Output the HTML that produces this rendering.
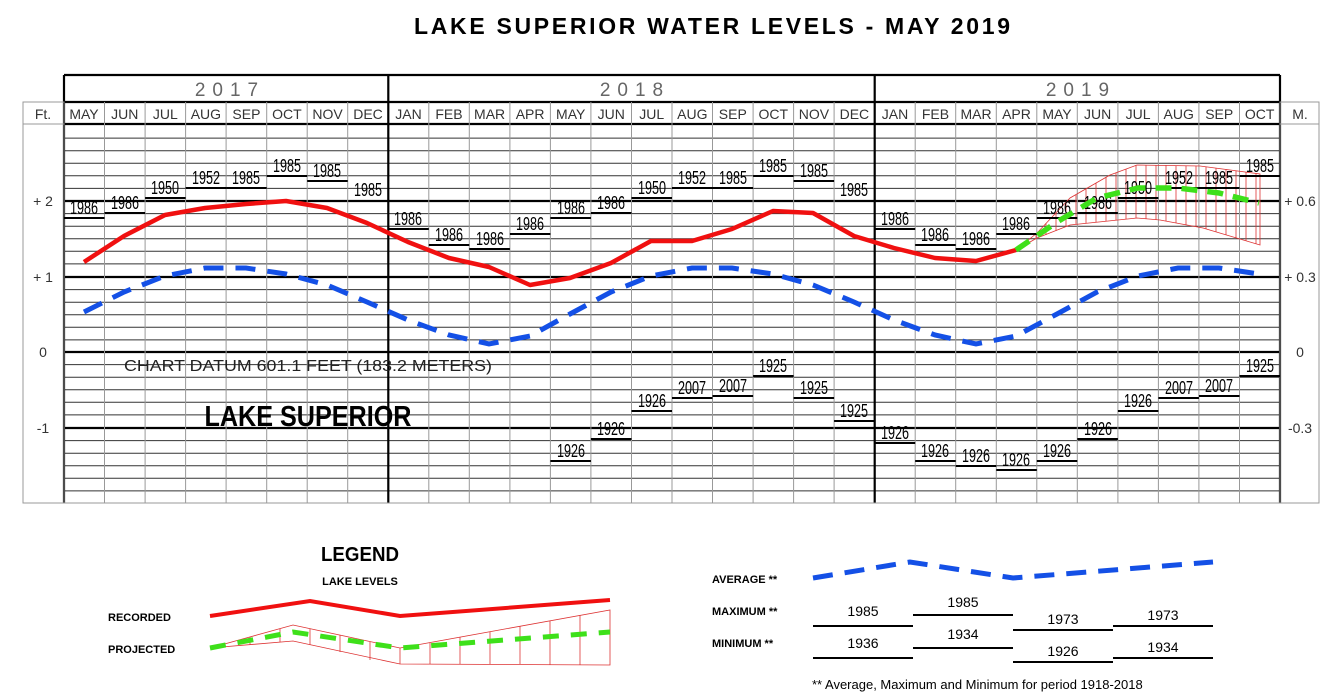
<!DOCTYPE html>
<html><head><meta charset="utf-8"><style>
html,body{margin:0;padding:0;background:#fff;}
svg{display:block;font-family:"Liberation Sans",sans-serif;}
.m{font-size:14px;fill:#333;text-anchor:middle;}
.r{font-size:18px;fill:#000;text-anchor:middle;}
.lg{font-size:11px;font-weight:bold;fill:#000;}
.ly{font-size:14px;fill:#000;text-anchor:middle;}
</style></head><body>
<svg width="1337" height="699" viewBox="0 0 1337 699">
<text x="712" y="34" text-anchor="middle" font-size="23" font-weight="bold" textLength="596" lengthAdjust="spacing">LAKE SUPERIOR WATER LEVELS - MAY 2019</text>
<g stroke="#333" stroke-width="1">
<line x1="64" x2="1280" y1="138.1" y2="138.1"/><line x1="64" x2="1280" y1="150.7" y2="150.7"/><line x1="64" x2="1280" y1="163.3" y2="163.3"/><line x1="64" x2="1280" y1="175.8" y2="175.8"/><line x1="64" x2="1280" y1="188.4" y2="188.4"/>
<line x1="64" x2="1280" y1="213.6" y2="213.6"/><line x1="64" x2="1280" y1="226.2" y2="226.2"/><line x1="64" x2="1280" y1="238.8" y2="238.8"/><line x1="64" x2="1280" y1="251.3" y2="251.3"/><line x1="64" x2="1280" y1="263.9" y2="263.9"/>
<line x1="64" x2="1280" y1="289.6" y2="289.6"/><line x1="64" x2="1280" y1="302.2" y2="302.2"/><line x1="64" x2="1280" y1="314.8" y2="314.8"/><line x1="64" x2="1280" y1="327.3" y2="327.3"/><line x1="64" x2="1280" y1="339.9" y2="339.9"/>
<line x1="64" x2="1280" y1="364.6" y2="364.6"/><line x1="64" x2="1280" y1="377.2" y2="377.2"/><line x1="64" x2="1280" y1="389.8" y2="389.8"/><line x1="64" x2="1280" y1="402.3" y2="402.3"/><line x1="64" x2="1280" y1="414.9" y2="414.9"/>
<line x1="64" x2="1280" y1="440.6" y2="440.6"/><line x1="64" x2="1280" y1="453.2" y2="453.2"/><line x1="64" x2="1280" y1="465.8" y2="465.8"/><line x1="64" x2="1280" y1="478.3" y2="478.3"/><line x1="64" x2="1280" y1="490.9" y2="490.9"/>
</g>
<g stroke="#000" stroke-width="2.2">
<line x1="64" x2="1280" y1="201" y2="201"/><line x1="64" x2="1280" y1="277" y2="277"/><line x1="64" x2="1280" y1="352" y2="352"/><line x1="64" x2="1280" y1="428" y2="428"/>
<line x1="64" x2="1280" y1="75" y2="75"/><line x1="64" x2="1280" y1="102" y2="102"/><line x1="64" x2="1280" y1="124" y2="124"/>
</g>
<g stroke="#999" stroke-width="1">
<line x1="104.5" x2="104.5" y1="102" y2="503"/><line x1="145.1" x2="145.1" y1="102" y2="503"/><line x1="185.6" x2="185.6" y1="102" y2="503"/><line x1="226.1" x2="226.1" y1="102" y2="503"/><line x1="266.7" x2="266.7" y1="102" y2="503"/><line x1="307.2" x2="307.2" y1="102" y2="503"/><line x1="347.7" x2="347.7" y1="102" y2="503"/>
<line x1="428.8" x2="428.8" y1="102" y2="503"/><line x1="469.3" x2="469.3" y1="102" y2="503"/><line x1="509.9" x2="509.9" y1="102" y2="503"/><line x1="550.4" x2="550.4" y1="102" y2="503"/><line x1="590.9" x2="590.9" y1="102" y2="503"/><line x1="631.5" x2="631.5" y1="102" y2="503"/><line x1="672" x2="672" y1="102" y2="503"/><line x1="712.5" x2="712.5" y1="102" y2="503"/><line x1="753.1" x2="753.1" y1="102" y2="503"/><line x1="793.6" x2="793.6" y1="102" y2="503"/><line x1="834.1" x2="834.1" y1="102" y2="503"/>
<line x1="915.2" x2="915.2" y1="102" y2="503"/><line x1="955.7" x2="955.7" y1="102" y2="503"/><line x1="996.3" x2="996.3" y1="102" y2="503"/><line x1="1036.8" x2="1036.8" y1="102" y2="503"/><line x1="1077.3" x2="1077.3" y1="102" y2="503"/><line x1="1117.9" x2="1117.9" y1="102" y2="503"/><line x1="1158.4" x2="1158.4" y1="102" y2="503"/><line x1="1198.9" x2="1198.9" y1="102" y2="503"/><line x1="1239.5" x2="1239.5" y1="102" y2="503"/>
</g>
<g stroke="#000" stroke-width="2.2">
<line x1="64" x2="64" y1="75" y2="503"/><line x1="388.3" x2="388.3" y1="75" y2="503"/><line x1="874.7" x2="874.7" y1="75" y2="503"/><line x1="1280" x2="1280" y1="75" y2="503"/>
</g>
<g stroke="#999" stroke-width="1" fill="none">
<rect x="23" y="102" width="41" height="401"/><rect x="1280" y="102" width="39" height="401"/>
<line x1="23" x2="64" y1="124" y2="124"/><line x1="1280" x2="1319" y1="124" y2="124"/>
<line x1="64" x2="1280" y1="503" y2="503"/>
</g>
<g font-size="19" fill="#666" text-anchor="middle" letter-spacing="7">
<text x="230" y="96">2017</text><text x="635" y="96">2018</text><text x="1081" y="96">2019</text>
</g>
<text x="43" y="119" class="m">Ft.</text><text x="1300" y="119" class="m">M.</text>
<g class="m">
<text x="84" y="119">MAY</text><text x="124.8" y="119">JUN</text><text x="165.3" y="119">JUL</text><text x="205.9" y="119">AUG</text><text x="246.4" y="119">SEP</text><text x="286.9" y="119">OCT</text><text x="327.5" y="119">NOV</text><text x="368" y="119">DEC</text>
<text x="408.5" y="119">JAN</text><text x="449" y="119">FEB</text><text x="489.6" y="119">MAR</text><text x="530.1" y="119">APR</text><text x="570.7" y="119">MAY</text><text x="611.2" y="119">JUN</text><text x="651.7" y="119">JUL</text><text x="692.3" y="119">AUG</text><text x="732.8" y="119">SEP</text><text x="773.3" y="119">OCT</text><text x="813.9" y="119">NOV</text><text x="854.4" y="119">DEC</text>
<text x="895" y="119">JAN</text><text x="935.5" y="119">FEB</text><text x="976" y="119">MAR</text><text x="1016.5" y="119">APR</text><text x="1057" y="119">MAY</text><text x="1097.6" y="119">JUN</text><text x="1138.1" y="119">JUL</text><text x="1178.7" y="119">AUG</text><text x="1219.2" y="119">SEP</text><text x="1259.7" y="119">OCT</text>
</g>
<g class="m" font-size="13">
<text x="43" y="206">+ 2</text><text x="43" y="282">+ 1</text><text x="43" y="357">0</text><text x="43" y="433">-1</text>
<text x="1300" y="206">+ 0.6</text><text x="1300" y="282">+ 0.3</text><text x="1300" y="357">0</text><text x="1300" y="433">-0.3</text>
</g>
<text x="308" y="371" text-anchor="middle" font-size="16" fill="#222" textLength="368" lengthAdjust="spacingAndGlyphs">CHART DATUM  601.1 FEET (183.2 METERS)</text>
<text x="308" y="426" text-anchor="middle" font-size="29" font-weight="bold" textLength="207" lengthAdjust="spacingAndGlyphs">LAKE SUPERIOR</text>
<g stroke="#d33" stroke-width="0.8" fill="none">
<path d="M1016,250 L1037,233 L1070,198 L1110,175 L1137,165 L1200,166 L1260,174 L1260,245 L1203,228 L1160,220 L1137,218 L1070,225 L1037,238 Z"/>
<line x1="1026" x2="1026" y1="242" y2="245"/><line x1="1036" x2="1036" y1="234" y2="239"/><line x1="1046" x2="1046" y1="223" y2="235"/><line x1="1056" x2="1056" y1="213" y2="231"/><line x1="1066" x2="1066" y1="202" y2="227"/><line x1="1076" x2="1076" y1="195" y2="224"/><line x1="1086" x2="1086" y1="189" y2="223"/><line x1="1096" x2="1096" y1="183" y2="222"/><line x1="1106" x2="1106" y1="177" y2="221"/><line x1="1116" x2="1116" y1="173" y2="220"/><line x1="1126" x2="1126" y1="169" y2="219"/><line x1="1136" x2="1136" y1="165" y2="218"/><line x1="1146" x2="1146" y1="165" y2="219"/><line x1="1156" x2="1156" y1="165" y2="220"/><line x1="1166" x2="1166" y1="165" y2="221"/><line x1="1176" x2="1176" y1="166" y2="223"/><line x1="1186" x2="1186" y1="166" y2="225"/><line x1="1196" x2="1196" y1="166" y2="227"/><line x1="1206" x2="1206" y1="167" y2="229"/><line x1="1216" x2="1216" y1="168" y2="232"/><line x1="1226" x2="1226" y1="169" y2="235"/><line x1="1236" x2="1236" y1="171" y2="238"/><line x1="1246" x2="1246" y1="172" y2="241"/><line x1="1256" x2="1256" y1="173" y2="244"/>
</g>
<g stroke="#000" stroke-width="2">
<line x1="64" x2="104.5" y1="218" y2="218"/><line x1="104.5" x2="145.1" y1="213" y2="213"/><line x1="145.1" x2="185.6" y1="198" y2="198"/><line x1="185.6" x2="226.1" y1="188" y2="188"/><line x1="226.1" x2="266.7" y1="188" y2="188"/><line x1="266.7" x2="307.2" y1="176" y2="176"/><line x1="307.2" x2="347.7" y1="181" y2="181"/>
<line x1="388.3" x2="428.8" y1="229" y2="229"/><line x1="428.8" x2="469.3" y1="245" y2="245"/><line x1="469.3" x2="509.9" y1="249" y2="249"/><line x1="509.9" x2="550.4" y1="234" y2="234"/><line x1="550.4" x2="590.9" y1="218" y2="218"/><line x1="590.9" x2="631.5" y1="213" y2="213"/><line x1="631.5" x2="672" y1="198" y2="198"/><line x1="672" x2="712.5" y1="188" y2="188"/><line x1="712.5" x2="753.1" y1="188" y2="188"/><line x1="753.1" x2="793.6" y1="176" y2="176"/><line x1="793.6" x2="834.1" y1="181" y2="181"/>
<line x1="874.7" x2="915.2" y1="229" y2="229"/><line x1="915.2" x2="955.7" y1="245" y2="245"/><line x1="955.7" x2="996.3" y1="249" y2="249"/><line x1="996.3" x2="1036.8" y1="234" y2="234"/><line x1="1036.8" x2="1077.3" y1="218" y2="218"/><line x1="1077.3" x2="1117.9" y1="213" y2="213"/><line x1="1117.9" x2="1158.4" y1="198" y2="198"/><line x1="1158.4" x2="1198.9" y1="188" y2="188"/><line x1="1198.9" x2="1239.5" y1="188" y2="188"/><line x1="1239.5" x2="1280" y1="176" y2="176"/>
<line x1="550.4" x2="590.9" y1="461" y2="461"/><line x1="590.9" x2="631.5" y1="439" y2="439"/><line x1="631.5" x2="672" y1="411" y2="411"/><line x1="672" x2="712.5" y1="398" y2="398"/><line x1="712.5" x2="753.1" y1="396" y2="396"/><line x1="753.1" x2="793.6" y1="376" y2="376"/><line x1="793.6" x2="834.1" y1="398" y2="398"/><line x1="834.1" x2="874.7" y1="421" y2="421"/>
<line x1="874.7" x2="915.2" y1="443" y2="443"/><line x1="915.2" x2="955.7" y1="461" y2="461"/><line x1="955.7" x2="996.3" y1="466" y2="466"/><line x1="996.3" x2="1036.8" y1="470" y2="470"/><line x1="1036.8" x2="1077.3" y1="461" y2="461"/><line x1="1077.3" x2="1117.9" y1="439" y2="439"/><line x1="1117.9" x2="1158.4" y1="411" y2="411"/><line x1="1158.4" x2="1198.9" y1="398" y2="398"/><line x1="1198.9" x2="1239.5" y1="396" y2="396"/><line x1="1239.5" x2="1280" y1="376" y2="376"/>
</g>
<g class="r">
<text x="84" y="214" textLength="28" lengthAdjust="spacingAndGlyphs">1986</text><text x="125" y="209" textLength="28" lengthAdjust="spacingAndGlyphs">1986</text><text x="165" y="194" textLength="28" lengthAdjust="spacingAndGlyphs">1950</text><text x="206" y="184" textLength="28" lengthAdjust="spacingAndGlyphs">1952</text><text x="246" y="184" textLength="28" lengthAdjust="spacingAndGlyphs">1985</text><text x="287" y="172" textLength="28" lengthAdjust="spacingAndGlyphs">1985</text><text x="327" y="177" textLength="28" lengthAdjust="spacingAndGlyphs">1985</text><text x="368" y="196" textLength="28" lengthAdjust="spacingAndGlyphs">1985</text>
<text x="408" y="225" textLength="28" lengthAdjust="spacingAndGlyphs">1986</text><text x="449" y="241" textLength="28" lengthAdjust="spacingAndGlyphs">1986</text><text x="490" y="245" textLength="28" lengthAdjust="spacingAndGlyphs">1986</text><text x="530" y="230" textLength="28" lengthAdjust="spacingAndGlyphs">1986</text><text x="571" y="214" textLength="28" lengthAdjust="spacingAndGlyphs">1986</text><text x="611" y="209" textLength="28" lengthAdjust="spacingAndGlyphs">1986</text><text x="652" y="194" textLength="28" lengthAdjust="spacingAndGlyphs">1950</text><text x="692" y="184" textLength="28" lengthAdjust="spacingAndGlyphs">1952</text><text x="733" y="184" textLength="28" lengthAdjust="spacingAndGlyphs">1985</text><text x="773" y="172" textLength="28" lengthAdjust="spacingAndGlyphs">1985</text><text x="814" y="177" textLength="28" lengthAdjust="spacingAndGlyphs">1985</text><text x="854" y="196" textLength="28" lengthAdjust="spacingAndGlyphs">1985</text>
<text x="895" y="225" textLength="28" lengthAdjust="spacingAndGlyphs">1986</text><text x="935" y="241" textLength="28" lengthAdjust="spacingAndGlyphs">1986</text><text x="976" y="245" textLength="28" lengthAdjust="spacingAndGlyphs">1986</text><text x="1016" y="230" textLength="28" lengthAdjust="spacingAndGlyphs">1986</text><text x="1057" y="214" textLength="28" lengthAdjust="spacingAndGlyphs">1986</text><text x="1098" y="209" textLength="28" lengthAdjust="spacingAndGlyphs">1986</text><text x="1138" y="194" textLength="28" lengthAdjust="spacingAndGlyphs">1950</text><text x="1179" y="184" textLength="28" lengthAdjust="spacingAndGlyphs">1952</text><text x="1219" y="184" textLength="28" lengthAdjust="spacingAndGlyphs">1985</text><text x="1260" y="172" textLength="28" lengthAdjust="spacingAndGlyphs">1985</text>
<text x="571" y="457" textLength="28" lengthAdjust="spacingAndGlyphs">1926</text><text x="611" y="435" textLength="28" lengthAdjust="spacingAndGlyphs">1926</text><text x="652" y="407" textLength="28" lengthAdjust="spacingAndGlyphs">1926</text><text x="692" y="394" textLength="28" lengthAdjust="spacingAndGlyphs">2007</text><text x="733" y="392" textLength="28" lengthAdjust="spacingAndGlyphs">2007</text><text x="773" y="372" textLength="28" lengthAdjust="spacingAndGlyphs">1925</text><text x="814" y="394" textLength="28" lengthAdjust="spacingAndGlyphs">1925</text><text x="854" y="417" textLength="28" lengthAdjust="spacingAndGlyphs">1925</text>
<text x="895" y="439" textLength="28" lengthAdjust="spacingAndGlyphs">1926</text><text x="935" y="457" textLength="28" lengthAdjust="spacingAndGlyphs">1926</text><text x="976" y="462" textLength="28" lengthAdjust="spacingAndGlyphs">1926</text><text x="1016" y="466" textLength="28" lengthAdjust="spacingAndGlyphs">1926</text><text x="1057" y="457" textLength="28" lengthAdjust="spacingAndGlyphs">1926</text><text x="1098" y="435" textLength="28" lengthAdjust="spacingAndGlyphs">1926</text><text x="1138" y="407" textLength="28" lengthAdjust="spacingAndGlyphs">1926</text><text x="1179" y="394" textLength="28" lengthAdjust="spacingAndGlyphs">2007</text><text x="1219" y="392" textLength="28" lengthAdjust="spacingAndGlyphs">2007</text><text x="1260" y="372" textLength="28" lengthAdjust="spacingAndGlyphs">1925</text>
</g>
<polyline fill="none" stroke="#1450e6" stroke-width="5" stroke-dasharray="20,12" points="84,312 124,292 165,276 205,268 246,268 286,274 327,285 367,302 408,320 449,335 489,344 530,336 570,314 611,292 651,276 692,268 732,268 773,274 813,285 854,302 894,320 935,335 976,344 1016,336 1057,314 1097,292 1138,276 1178,268 1219,268 1259,274"/>
<polyline fill="none" stroke="#f01010" stroke-width="4.5" stroke-linejoin="round" points="84,262 124,236 165,215 205,208 246,204 286,201 327,208 367,223 408,242 449,258 489,267 530,285 570,278 611,263 651,241 692,241 732,229 773,211 813,213 854,236 894,248 935,258 976,261 1016,250"/>
<polyline fill="none" stroke="#3ee01a" stroke-width="5.5" stroke-dasharray="16,10" points="1016,250 1057,222 1097,198 1138,188 1178,188 1219,193 1259,203"/>
<text x="360" y="561" text-anchor="middle" font-size="20" font-weight="bold" textLength="78" lengthAdjust="spacingAndGlyphs">LEGEND</text>
<text x="360" y="585" text-anchor="middle" font-size="11" font-weight="bold">LAKE LEVELS</text>
<text x="108" y="621" class="lg">RECORDED</text>
<text x="108" y="653" class="lg">PROJECTED</text>
<polyline fill="none" stroke="#f01010" stroke-width="4" points="210,616 310,601 400,616 610,600"/>
<g stroke="#d33" stroke-width="0.8" fill="none">
<path d="M210,648 L293,625 L400,648 L610,610 L610,665 L400,664 L293,641 L210,648 Z"/>
<line x1="250" x2="250" y1="637" y2="645"/><line x1="280" x2="280" y1="629" y2="642"/><line x1="310" x2="310" y1="629" y2="645"/><line x1="340" x2="340" y1="635" y2="652"/><line x1="370" x2="370" y1="642" y2="660"/><line x1="400" x2="400" y1="648" y2="664"/><line x1="430" x2="430" y1="643" y2="664"/><line x1="460" x2="460" y1="637" y2="664"/><line x1="490" x2="490" y1="632" y2="664"/><line x1="520" x2="520" y1="626" y2="664"/><line x1="550" x2="550" y1="621" y2="665"/><line x1="580" x2="580" y1="615" y2="665"/>
</g>
<polyline fill="none" stroke="#3ee01a" stroke-width="5" stroke-dasharray="16,12" points="210,648 293,632 400,648 610,632"/>
<text x="712" y="583" class="lg">AVERAGE **</text>
<text x="712" y="615" class="lg">MAXIMUM  **</text>
<text x="712" y="647" class="lg">MINIMUM  **</text>
<polyline fill="none" stroke="#1450e6" stroke-width="5" stroke-dasharray="20,12" points="813,578 910,562 1013,578 1213,562"/>
<g stroke="#000" stroke-width="2">
<line x1="813" x2="913" y1="626" y2="626"/><line x1="913" x2="1013" y1="615" y2="615"/><line x1="1013" x2="1113" y1="630" y2="630"/><line x1="1113" x2="1213" y1="626" y2="626"/>
<line x1="813" x2="913" y1="658" y2="658"/><line x1="913" x2="1013" y1="648" y2="648"/><line x1="1013" x2="1113" y1="662" y2="662"/><line x1="1113" x2="1213" y1="658" y2="658"/>
</g>
<g class="ly">
<text x="863" y="616">1985</text><text x="963" y="607">1985</text><text x="1063" y="624">1973</text><text x="1163" y="620">1973</text>
<text x="863" y="648">1936</text><text x="963" y="639">1934</text><text x="1063" y="656">1926</text><text x="1163" y="652">1934</text>
</g>
<text x="812" y="689" font-size="13" fill="#000">** Average, Maximum and Minimum for period 1918-2018</text>
</svg>
</body></html>
